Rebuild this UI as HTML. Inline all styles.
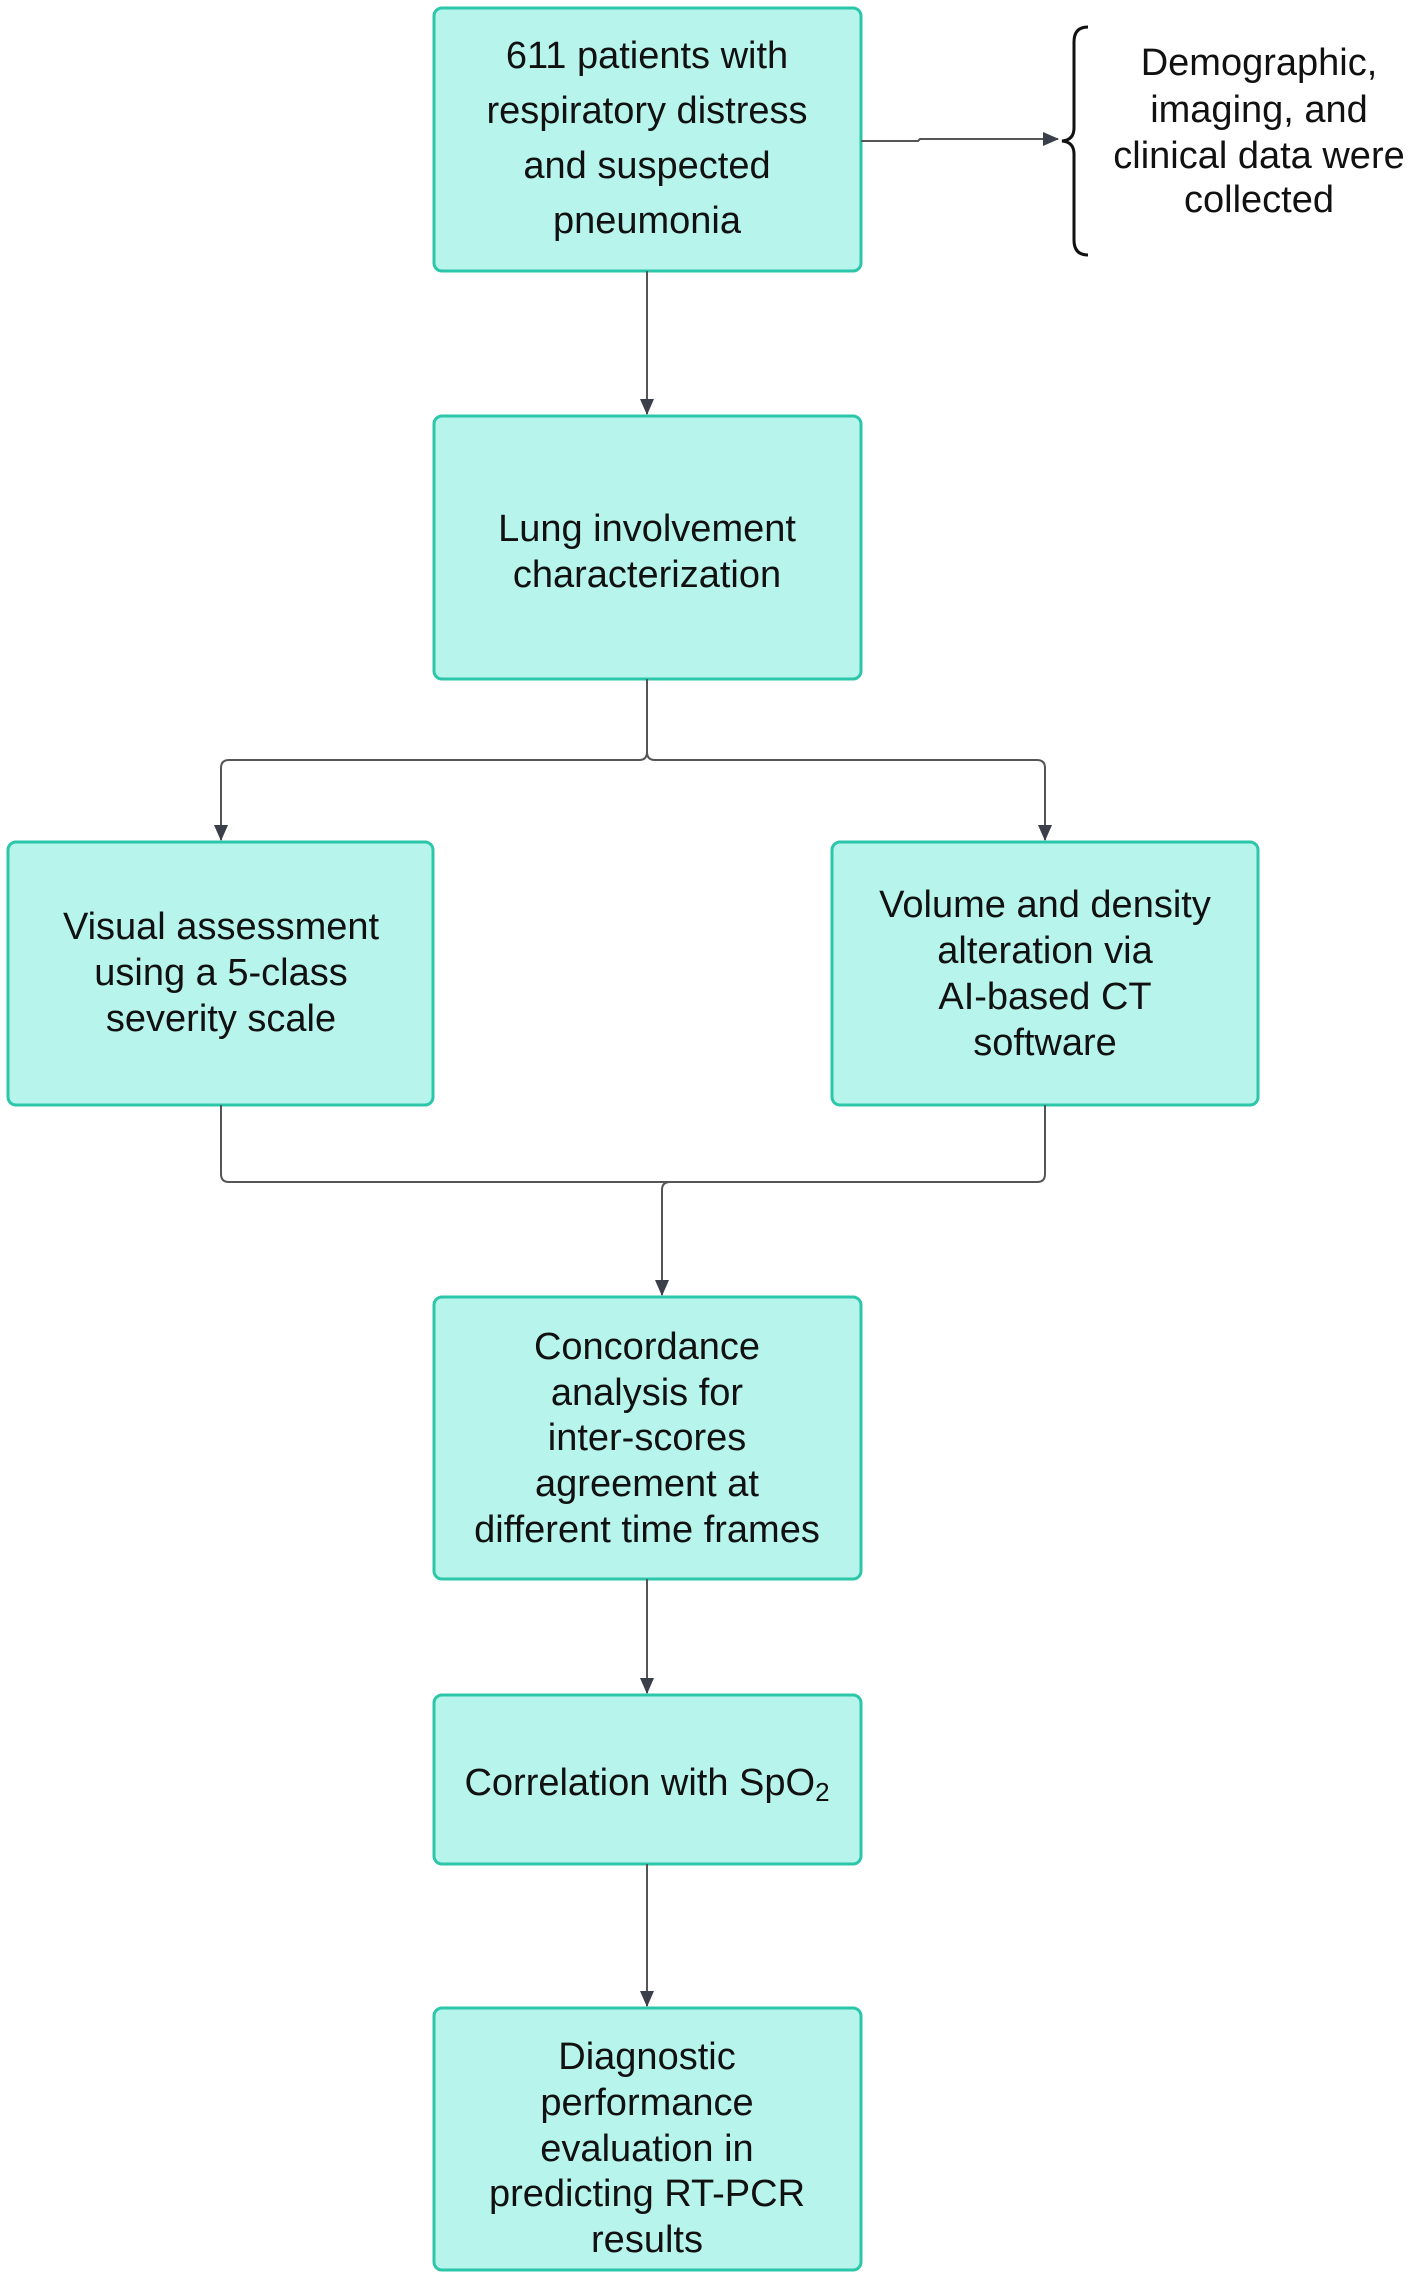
<!DOCTYPE html>
<html><head><meta charset="utf-8"><style>
html,body{margin:0;padding:0;background:#fff}
svg{display:block}
text{font-family:"Liberation Sans",sans-serif;font-size:38px;fill:#111;text-anchor:middle}
.b{fill:#b6f4ec;stroke:#2cc6a9;stroke-width:3}
.l{fill:none;stroke:#555;stroke-width:2}
</style></head><body>
<svg width="1418" height="2276" viewBox="0 0 1418 2276">
<defs><marker id="a" markerWidth="16" markerHeight="16" refX="15" refY="8" orient="auto" markerUnits="userSpaceOnUse"><path d="M0,1 L16,8 L0,15 z" fill="#3a3f4a"/></marker></defs>
<rect class="b" x="434" y="8" width="427" height="263" rx="8"/>
<rect class="b" x="434" y="416" width="427" height="263" rx="8"/>
<rect class="b" x="8" y="842" width="425" height="263" rx="8"/>
<rect class="b" x="832" y="842" width="426" height="263" rx="8"/>
<rect class="b" x="434" y="1297" width="427" height="282" rx="8"/>
<rect class="b" x="434" y="1695" width="427" height="169" rx="8"/>
<rect class="b" x="434" y="2008" width="427" height="262" rx="8"/>
<path class="l" d="M861,141 H918 L920,139 H1058" marker-end="url(#a)"/>
<path fill="none" stroke="#111" stroke-width="3" d="M1088,27 Q1074,27 1074,42 V128 Q1074,140 1062,141 Q1074,142 1074,154 V240 Q1074,255 1088,255"/>
<path class="l" d="M647,271 V414" marker-end="url(#a)"/>
<path class="l" d="M647,679 V752 Q647,760 639,760 H229 Q221,760 221,768 V840" marker-end="url(#a)"/>
<path class="l" d="M647,752 Q647,760 655,760 H1037 Q1045,760 1045,768 V840" marker-end="url(#a)"/>
<path class="l" d="M221,1105 V1174 Q221,1182 229,1182 H1037 Q1045,1182 1045,1174 V1105"/>
<path class="l" d="M697,1182 H670 Q662,1182 662,1190 V1295" marker-end="url(#a)"/>
<path class="l" d="M647,1579 V1693" marker-end="url(#a)"/>
<path class="l" d="M647,1864 V2006" marker-end="url(#a)"/>
<text x="647" y="68">611 patients with</text>
<text x="647" y="123">respiratory distress</text>
<text x="647" y="178">and suspected</text>
<text x="647" y="233">pneumonia</text>
<text x="1259" y="75">Demographic,</text>
<text x="1259" y="122">imaging, and</text>
<text x="1259" y="168">clinical data were</text>
<text x="1259" y="212">collected</text>
<text x="647" y="541">Lung involvement</text>
<text x="647" y="587">characterization</text>
<text x="221" y="939">Visual assessment</text>
<text x="221" y="985">using a 5-class</text>
<text x="221" y="1031">severity scale</text>
<text x="1045" y="917">Volume and density</text>
<text x="1045" y="963">alteration via</text>
<text x="1045" y="1009">AI-based CT</text>
<text x="1045" y="1055">software</text>
<text x="647" y="1359">Concordance</text>
<text x="647" y="1405">analysis for</text>
<text x="647" y="1450">inter-scores</text>
<text x="647" y="1496">agreement at</text>
<text x="647" y="1542">different time frames</text>
<text x="647" y="1795">Correlation with SpO<tspan font-size="26" dy="6">2</tspan></text>
<text x="647" y="2069">Diagnostic</text>
<text x="647" y="2115">performance</text>
<text x="647" y="2161">evaluation in</text>
<text x="647" y="2206">predicting RT-PCR</text>
<text x="647" y="2252">results</text>
</svg>
</body></html>
